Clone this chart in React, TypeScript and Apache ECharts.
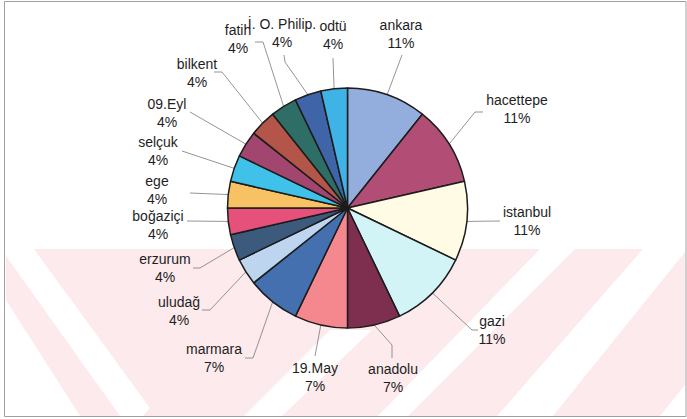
import React, { useEffect, useRef } from "react";
import * as echarts from "echarts";

// ---- data ----
const universities = [
  "ankara", "hacettepe", "istanbul", "gazi", "anadolu", "19.May", "marmara",
  "uludağ", "erzurum", "boğaziçi", "ege", "selçuk", "09.Eyl", "bilkent",
  "fatih", "İ. O. Philip.", "odtü",
];
const counts = [3, 3, 3, 3, 2, 2, 2, 1, 1, 1, 1, 1, 1, 1, 1, 1, 1];
const sliceColors = [
  "#93AEDC", "#B24E76", "#FFFBE4", "#D2F4F6", "#7E2E4E", "#F5878F", "#4470B0",
  "#BDD5EE", "#3C5A7C", "#E5517B", "#F8C264", "#40C1E9", "#A2466F", "#B4554A",
  "#2F6E66", "#3F64A8", "#40B3E6",
];

// ---- label layout (positions of label blocks and leader-line bends) ----
const labelPos: number[][] = [
  [401, 34], [517, 109], [527, 221], [492, 330], [393, 378], [315, 377], [214, 358],
  [179, 311], [165, 268], [158, 225], [157, 190], [158, 151], [167, 113], [197, 73],
  [238, 39], [282, 33], [333, 35],
];
const lineBends: number[][][] = [
  [[402, 55]],
  [[475, 112], [483, 112]],
  [[500, 221]],
  [[472, 330], [478, 330]],
  [[392, 345], [392, 358]],
  [[315, 356]],
  [[253, 358], [245, 358]],
  [[210, 310], [202, 310]],
  [[200, 268], [193, 268]],
  [[187, 221]],
  [[190, 193]],
  [[182, 151]],
  [[190, 112]],
  [[222, 72], [214, 72]],
  [[263, 42], [255, 42]],
  [[285, 62], [284, 55]],
  [[333, 58]],
];

export default function App() {
  const ref = useRef<HTMLDivElement>(null);
  useEffect(() => {
    document.body.style.margin = "0";
    const chart = echarts.init(ref.current!, null, { renderer: "svg" });
    const total = counts.reduce((a, b) => a + b, 0);
    const white = "#ffffff";
    const band = (pts: number[][]) => ({
      type: "polygon", z: 0, silent: true,
      shape: { points: pts },
      style: { fill: white },
    });
    chart.setOption({
      animation: false,
      backgroundColor: "#ffffff",
      graphic: [
        {
          type: "polygon", z: 0, silent: true,
          shape: { points: [[6, 249], [685, 249], [685, 416], [6, 416]] },
          style: { fill: "#FCEAED" },
        },
        band([[6, 256], [6, 249], [34, 249], [150, 408], [143, 416], [120, 416]]),
        band([[6, 300], [6, 416], [80, 416]]),
        band([[330, 330], [372, 330], [282, 416], [244, 416]]),
        band([[540, 249], [575, 249], [408, 416], [378, 416]]),
        band([[643, 249], [685, 249], [685, 252], [553, 416], [497, 416]]),
        band([[660, 416], [685, 385], [685, 416]]),
        {
          type: "rect", z: 1, silent: true,
          shape: { x: 4.5, y: 1.5, width: 681.5, height: 415 },
          style: { fill: "none", stroke: "#a0a0a0", lineWidth: 1 },
        },
      ],
      series: [
        {
          type: "pie",
          z: 5,
          center: [347.5, 208],
          radius: 120,
          startAngle: 90,
          clockwise: true,
          data: universities.map((name, i) => ({
            name,
            value: counts[i],
            itemStyle: { color: sliceColors[i] },
          })),
          itemStyle: { borderColor: "#1c1c1c", borderWidth: 1.5 },
          emphasis: { disabled: true },
          label: {
            show: true,
            position: "outside",
            formatter: (p: any) =>
              `${p.name}\n${Math.round((p.value / total) * 100)}%`,
            fontFamily: "Liberation Sans, Arial, sans-serif",
            fontSize: 14,
            lineHeight: 18,
            color: "#1e1e1e",
            align: "center",
          },
          labelLine: {
            show: true,
            length: 10,
            length2: 10,
            lineStyle: { color: "#7a7a7a", width: 0.8 },
          },
          labelLayout: (params: any) => {
            const i = params.dataIndex;
            const pos = labelPos[i];
            const edge = params.labelLinePoints ? params.labelLinePoints[0] : pos;
            return {
              x: pos[0],
              y: pos[1],
              align: "center",
              verticalAlign: "middle",
              labelLinePoints: [edge, ...lineBends[i]],
            };
          },
        },
      ],
    });
    return () => chart.dispose();
  }, []);
  return <div ref={ref} style={{ width: 687, height: 419 }} />;
}
